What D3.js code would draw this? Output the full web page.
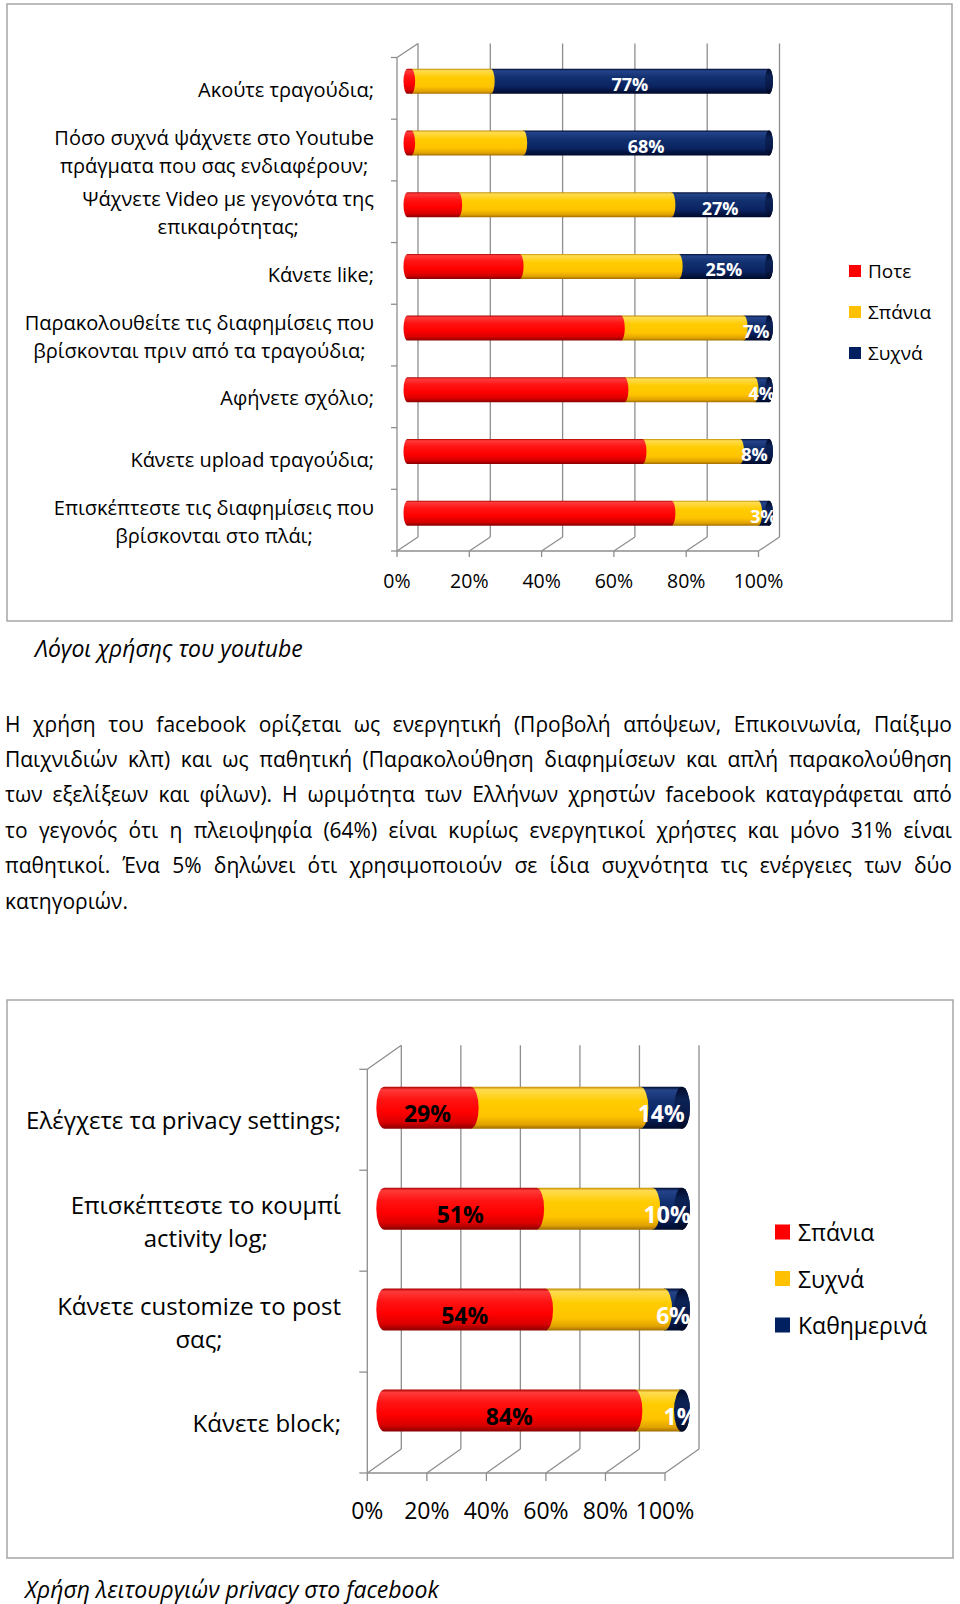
<!DOCTYPE html>
<html><head><meta charset="utf-8">
<script src="https://cdn.jsdelivr.net/npm/d3@7"></script>
<style>body{margin:0;background:#fff}</style>
</head><body>
<svg id="c" width="960" height="1604" xmlns="http://www.w3.org/2000/svg"></svg>
<script>
// ---------- DATA ----------
const ytCategories = [
  "Ακούτε τραγούδια;",
  "Πόσο συχνά ψάχνετε στο Youtube\nπράγματα που σας ενδιαφέρουν;",
  "Ψάχνετε Video με γεγονότα της\nεπικαιρότητας;",
  "Κάνετε like;",
  "Παρακολουθείτε τις διαφημίσεις που\nβρίσκονται πριν από τα τραγούδια;",
  "Αφήνετε σχόλιο;",
  "Κάνετε upload τραγούδια;",
  "Επισκέπτεστε τις διαφημίσεις που\nβρίσκονται στο πλάι;"
];
const ytSeries = ["Ποτε", "Σπάνια", "Συχνά"];
const ytNever  = [1, 1, 14, 31, 59, 60, 65, 73];
const ytRarely = [22, 31, 59, 44, 34, 36, 27, 24];
const ytOften  = [77, 68, 27, 25, 7, 4, 8, 3];

const fbCategories = [
  "Ελέγχετε τα privacy settings;",
  "Επισκέπτεστε το κουμπί\nactivity log;",
  "Κάνετε customize το post\nσας;",
  "Κάνετε block;"
];
const fbSeries = ["Σπάνια", "Συχνά", "Καθημερινά"];
const fbRarely = [29, 51, 54, 84];
const fbOften  = [57, 39, 40, 15];
const fbDaily  = [14, 10, 6, 1];

const xTicks = [0, 20, 40, 60, 80, 100];
const caption1 = "Λόγοι χρήσης του youtube";
const caption2 = "Χρήση λειτουργιών privacy στο facebook";
const paragraphLines = [
  "Η χρήση του facebook ορίζεται ως ενεργητική (Προβολή απόψεων, Επικοινωνία, Παίξιμο",
  "Παιχνιδιών κλπ) και ως παθητική (Παρακολούθηση διαφημίσεων και απλή παρακολούθηση",
  "των εξελίξεων και φίλων). Η ωριμότητα των Ελλήνων χρηστών facebook καταγράφεται από",
  "το γεγονός ότι η πλειοψηφία (64%) είναι κυρίως ενεργητικοί χρήστες και μόνο 31% είναι",
  "παθητικοί. Ένα 5% δηλώνει ότι χρησιμοποιούν σε ίδια συχνότητα τις ενέργειες των δύο",
  "κατηγοριών."
];

// ---------- STYLE ----------
const FONT = "'Open Sans', 'Noto Sans', sans-serif";
const svg = d3.select("#c");
svg.append("rect").attr("width", 960).attr("height", 1604).attr("fill", "#fff");
const defs = svg.append("defs");

function grad(id, stops) {
  const lg = defs.append("linearGradient").attr("id", id)
    .attr("x1", 0).attr("y1", 0).attr("x2", 0).attr("y2", 1);
  stops.forEach(s => lg.append("stop").attr("offset", s[0]).attr("stop-color", s[1]));
}
grad("gRed",  [[0, "#a80000"], [0.07, "#ff3a3a"], [0.3, "#ff1414"], [0.6, "#ff0000"], [0.85, "#d80000"], [1, "#8a0000"]]);
grad("gYel",  [[0, "#c08a00"], [0.07, "#ffdc50"], [0.35, "#ffcc00"], [0.7, "#ffc400"], [0.9, "#e0a200"], [1, "#a06c00"]]);
grad("gNav",  [[0, "#000c30"], [0.08, "#24438a"], [0.35, "#12306e"], [0.7, "#0b2462"], [1, "#000a2a"]]);
grad("gCap",  [[0, "#000a28"], [0.3, "#0c2255"], [0.7, "#08194a"], [1, "#000820"]]);
const segFills = ["url(#gRed)", "url(#gYel)", "url(#gNav)"];
const legendFills = ["#ff0000", "#ffc000", "#002060"];

function segPath(x0, x1, cy, r, rx, leftRound) {
  let p = `M${x0},${cy - r}L${x1},${cy - r}A${rx},${r} 0 0 1 ${x1},${cy + r}L${x0},${cy + r}`;
  p += leftRound ? `A${rx},${r} 0 0 1 ${x0},${cy - r}Z` : "Z";
  return p;
}

function drawChart(cfg) {
  const g = svg.append("g");
  g.append("rect").attr("x", cfg.box[0]).attr("y", cfg.box[1])
    .attr("width", cfg.box[2] - cfg.box[0]).attr("height", cfg.box[3] - cfg.box[1])
    .attr("fill", "none").attr("stroke", "#a6a6a6").attr("stroke-width", 1.5);

  const x = d3.scaleLinear().domain([0, 100]).range([cfg.x0, cfg.x1]);
  const y = d3.scaleBand().domain(cfg.categories).range([cfg.yTop, cfg.yBottom]);
  const dx = cfg.dx, dy = cfg.dy;

  const grid = g.append("g").attr("stroke", "#8e8e8e").attr("stroke-width", 1.3).attr("fill", "none");
  xTicks.forEach(t => {
    grid.append("line").attr("x1", x(t) + dx).attr("x2", x(t) + dx)
      .attr("y1", cfg.yTop + dy).attr("y2", cfg.yBottom + dy);
    grid.append("line").attr("x1", x(t)).attr("y1", cfg.yBottom)
      .attr("x2", x(t) + dx).attr("y2", cfg.yBottom + dy);
    grid.append("line").attr("x1", x(t)).attr("x2", x(t))
      .attr("y1", cfg.yBottom).attr("y2", cfg.yBottom + cfg.tick);
  });
  grid.append("line").attr("x1", x(0)).attr("x2", x(100)).attr("y1", cfg.yBottom).attr("y2", cfg.yBottom);
  grid.append("line").attr("x1", x(0)).attr("x2", x(0)).attr("y1", cfg.yTop).attr("y2", cfg.yBottom);
  grid.append("line").attr("x1", x(0)).attr("y1", cfg.yTop).attr("x2", x(0) + dx).attr("y2", cfg.yTop + dy);
  const bounds = cfg.categories.map(c => y(c)).concat([cfg.yBottom]);
  bounds.forEach(b => grid.append("line").attr("x1", x(0) - cfg.tick).attr("x2", x(0))
    .attr("y1", b).attr("y2", b));

  g.selectAll(".xt").data(xTicks).enter().append("text")
    .attr("x", d => x(d)).attr("y", cfg.tickLabelY)
    .attr("text-anchor", "middle").attr("dominant-baseline", "central")
    .attr("font-family", FONT).attr("font-size", cfg.tickFont).attr("fill", "#000")
    .text(d => d + "%");

  cfg.categories.forEach(c => {
    const lines = c.split("\n");
    const cy = y(c) + y.bandwidth() / 2 + cfg.catDy;
    const tg = g.append("g");
    const texts = lines.map((l, i) => tg.append("text")
      .attr("y", cy + (i - (lines.length - 1) / 2) * cfg.lineH)
      .attr("dominant-baseline", "central").attr("text-anchor", "middle")
      .attr("font-family", FONT).attr("font-size", cfg.catFont).attr("fill", "#000").text(l));
    const w = d3.max(texts, t => t.node().getComputedTextLength());
    texts.forEach(t => t.attr("x", cfg.catRight - w / 2));
  });

  const rows = cfg.categories.map((c, i) => ({cat: c, s0: cfg.values[0][i], s1: cfg.values[1][i], s2: cfg.values[2][i]}));
  const stacked = d3.stack().keys(["s0", "s1", "s2"])(rows);
  const xb = v => x(v) + dx / 2;
  const bars = g.append("g");
  rows.forEach((row, i) => {
    const cy = y(row.cat) + y.bandwidth() / 2 + dy / 2;
    for (let k = 2; k >= 0; k--) {
      const d = stacked[k][i];
      bars.append("path").attr("d", segPath(xb(d[0]), xb(d[1]), cy, cfg.barR, cfg.capRx, k === 0))
        .attr("fill", segFills[k]);
    }
    bars.append("ellipse").attr("cx", xb(100)).attr("cy", cy).attr("rx", cfg.capRx).attr("ry", cfg.barR)
      .attr("fill", "url(#gCap)");
  });

  const lab = g.append("g");
  if (cfg.clipRight) {
    const id = "clip" + cfg.box[1];
    defs.append("clipPath").attr("id", id).append("rect")
      .attr("x", 0).attr("y", cfg.box[1]).attr("width", cfg.clipRight).attr("height", cfg.box[3] - cfg.box[1]);
    lab.attr("clip-path", `url(#${id})`);
  }
  cfg.labelSeries.forEach(ls => {
    rows.forEach((row, i) => {
      const d = stacked[ls.k][i];
      const cy = y(row.cat) + y.bandwidth() / 2 + dy / 2;
      lab.append("text").attr("x", xb((d[0] + d[1]) / 2)).attr("y", cy + cfg.labelDy)
        .attr("text-anchor", "middle").attr("dominant-baseline", "central")
        .attr("font-family", FONT).attr("font-weight", "bold").attr("font-size", cfg.labelFont)
        .attr("fill", ls.color).text(d[1] - d[0] + "%");
    });
  });

  cfg.series.forEach((s, i) => {
    const ly = cfg.legend.y + i * cfg.legend.step;
    g.append("rect").attr("x", cfg.legend.x).attr("y", ly - cfg.legend.sq / 2)
      .attr("width", cfg.legend.sq).attr("height", cfg.legend.sq).attr("fill", legendFills[i]);
    g.append("text").attr("x", cfg.legend.x + cfg.legend.sq + cfg.legend.gap).attr("y", ly)
      .attr("dominant-baseline", "central").attr("font-family", FONT)
      .attr("font-size", cfg.legend.font).attr("fill", "#000").text(s);
  });
}

drawChart({
  box: [7, 4, 952, 621],
  categories: ytCategories, series: ytSeries, values: [ytNever, ytRarely, ytOften],
  x0: 397, x1: 758.5, yTop: 57.5, yBottom: 551, dx: 21, dy: -14, tick: 6,
  barR: 12.5, capRx: 4,
  tickLabelY: 580, tickFont: 19.5,
  catRight: 374, catFont: 20, lineH: 28, catDy: 1,
  labelSeries: [{k: 2, color: "#fff"}], labelFont: 18, labelDy: 3,
  legend: {x: 849, y: 271, step: 41, sq: 12, gap: 7, font: 19}
});

drawChart({
  box: [7, 1000, 953, 1558],
  categories: fbCategories, series: fbSeries, values: [fbRarely, fbOften, fbDaily],
  x0: 367.3, x1: 665, yTop: 1069.3, yBottom: 1473, dx: 34, dy: -24, tick: 8,
  barR: 21, capRx: 8,
  tickLabelY: 1510, tickFont: 23,
  catRight: 341, catFont: 24, lineH: 33, catDy: 0,
  labelSeries: [{k: 0, color: "#000"}, {k: 2, color: "#fff"}], labelFont: 23, labelDy: 5,
  clipRight: 701,
  legend: {x: 775, y: 1232, step: 46.5, sq: 15, gap: 8, font: 23}
});

svg.append("text").attr("x", 35).attr("y", 648).attr("dominant-baseline", "central")
  .attr("font-family", FONT).attr("font-style", "italic").attr("font-size", 23).text(caption1);
svg.append("text").attr("x", 25).attr("y", 1589).attr("dominant-baseline", "central")
  .attr("font-family", FONT).attr("font-style", "italic").attr("font-size", 23).text(caption2);

const pLeft = 5, pRight = 952, pY0 = 723.5, pStep = 35.4;
paragraphLines.forEach((line, i) => {
  const t = svg.append("text").attr("x", pLeft).attr("y", pY0 + i * pStep)
    .attr("dominant-baseline", "central").attr("font-family", FONT)
    .attr("font-size", 21).attr("fill", "#000").text(line);
  if (i < paragraphLines.length - 1) {
    const w = t.node().getComputedTextLength();
    const spaces = (line.match(/ /g) || []).length;
    if (spaces > 0) t.attr("word-spacing", (pRight - pLeft - w) / spaces);
  }
});
</script>
</body></html>
